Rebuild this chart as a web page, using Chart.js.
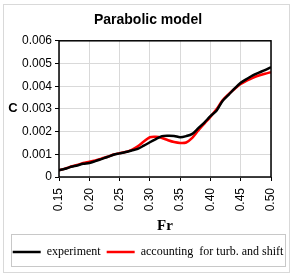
<!DOCTYPE html>
<html lang="en">
<head>
  <meta charset="UTF-8">
  <title>Parabolic model</title>
  <script src="https://cdn.jsdelivr.net/npm/chart.js@4.4.1/dist/chart.umd.min.js"></script>
  <style>
    html, body { margin: 0; padding: 0; background: #fff; }
  </style>
</head>
<body>
  <canvas id="chart" width="296" height="278"></canvas>
  <script>
    // Froude number
    const fr = [0.15, 0.16, 0.17, 0.18, 0.19, 0.20, 0.21, 0.22, 0.23, 0.24, 0.25, 0.26,
      0.27, 0.28, 0.29, 0.30, 0.31, 0.32, 0.33, 0.34, 0.35, 0.36, 0.37, 0.38,
      0.39, 0.40, 0.41, 0.42, 0.43, 0.44, 0.45, 0.46, 0.47, 0.48, 0.49, 0.50];

    const experiment = [0.00030, 0.00036, 0.00045, 0.00051, 0.00058, 0.00062, 0.00070, 0.00079,
      0.00088, 0.00098, 0.00104, 0.00110, 0.00117, 0.00124, 0.00138, 0.00153, 0.00167, 0.00180,
      0.00182, 0.00181, 0.00175, 0.00180, 0.00190, 0.00215, 0.00240, 0.00268, 0.00292, 0.00335,
      0.00362, 0.00390, 0.00415, 0.00432, 0.00448, 0.00460, 0.00471, 0.00484];

    const turbShift = [0.00030, 0.00037, 0.00046, 0.00053, 0.00062, 0.00067, 0.00073, 0.00081,
      0.00089, 0.00099, 0.00105, 0.00110, 0.00120, 0.00135, 0.00156, 0.00175, 0.00177, 0.00172,
      0.00162, 0.00154, 0.00150, 0.00152, 0.00172, 0.00205, 0.00235, 0.00265, 0.00298, 0.00338,
      0.00365, 0.00388, 0.00410, 0.00425, 0.00437, 0.00447, 0.00455, 0.00462];

    const seriesNames = ['experiment', 'accounting  for turb. and shift'];
    const yAxisName = 'C';

    function pts(ys) {
      return fr.map((x, i) => ({ x: x, y: ys[i] }));
    }

    // frame round the whole chart, box round the legend, border of the plot,
    // and the y axis name written upright as in the original
    const frames = {
      id: 'frames',
      afterDraw(chart) {
        const c = chart.ctx;
        const a = chart.chartArea;
        c.save();
        c.strokeStyle = '#d9d9d9';
        c.lineWidth = 1;
        c.strokeRect(3.5, 4.5, 286, 268);
        c.strokeStyle = '#c8c8c8';
        c.strokeRect(11.5, 234.5, 274, 32);
        c.strokeStyle = '#000';
        c.lineWidth = 1.5;
        c.strokeRect(a.left, a.top, a.right - a.left, a.bottom - a.top);
        c.fillStyle = '#000';
        c.font = 'bold 13px Arial, "Liberation Sans"';
        c.textAlign = 'center';
        c.textBaseline = 'middle';
        c.fillText(yAxisName, 13, chart.scales.y.getPixelForValue(0.003));
        c.restore();
      }
    };

    new Chart(document.getElementById('chart'), {
      type: 'line',
      data: {
        datasets: [{
          label: seriesNames[0],
          data: pts(experiment),
          borderColor: '#000',
          backgroundColor: '#000',
          borderWidth: 2.5,
          pointRadius: 0,
          tension: 0.3
        }, {
          label: seriesNames[1],
          data: pts(turbShift),
          borderColor: '#ff0000',
          backgroundColor: '#ff0000',
          borderWidth: 2.5,
          pointRadius: 0,
          tension: 0.3
        }]
      },
      options: {
        responsive: false,
        animation: false,
        maintainAspectRatio: false,
        layout: { padding: { left: 0, right: 0, top: 3, bottom: 10 } },
        plugins: {
          title: {
            display: true,
            text: 'Parabolic model',
            color: '#000',
            font: { family: 'Arial, Liberation Sans', size: 14, weight: 'bold' },
            padding: { top: 9, bottom: 12 }
          },
          legend: {
            position: 'bottom',
            labels: {
              color: '#000',
              font: { family: 'Liberation Serif, Times New Roman', size: 12 },
              usePointStyle: true,
              pointStyle: 'line',
              pointStyleWidth: 28,
              padding: 6
            }
          },
          tooltip: { enabled: false }
        },
        scales: {
          x: {
            type: 'linear',
            min: 0.15,
            max: 0.50,
            ticks: {
              stepSize: 0.05,
              color: '#000',
              font: { family: 'Arial, Liberation Sans', size: 12 },
              padding: 7,
              minRotation: 90,
              maxRotation: 90,
              callback: v => v.toFixed(2)
            },
            grid: { color: '#d9d9d9', drawTicks: true, tickLength: 4, tickColor: '#000' },
            border: { display: false },
            title: {
              display: true,
              text: 'Fr',
              color: '#000',
              font: { family: 'Liberation Serif, Times New Roman', size: 15, weight: 'bold' },
              padding: { top: 2, bottom: 5 }
            },
            afterFit(scale) { scale.height = 63; }
          },
          y: {
            min: 0,
            max: 0.006,
            ticks: {
              stepSize: 0.001,
              color: '#000',
              font: { family: 'Arial, Liberation Sans', size: 12 },
              callback: v => v === 0 ? '0' : v.toFixed(3)
            },
            grid: { color: '#d9d9d9', tickLength: 4, tickColor: '#000' },
            border: { display: false },
            afterFit(scale) { scale.width = 59; }
          },
          // empty axis on the right, only to leave the margin the original has
          yr: {
            position: 'right',
            ticks: { display: false },
            grid: { display: false },
            border: { display: false },
            afterFit(scale) { scale.width = 25; }
          }
        }
      },
      plugins: [frames]
    });
  </script>
</body>
</html>
